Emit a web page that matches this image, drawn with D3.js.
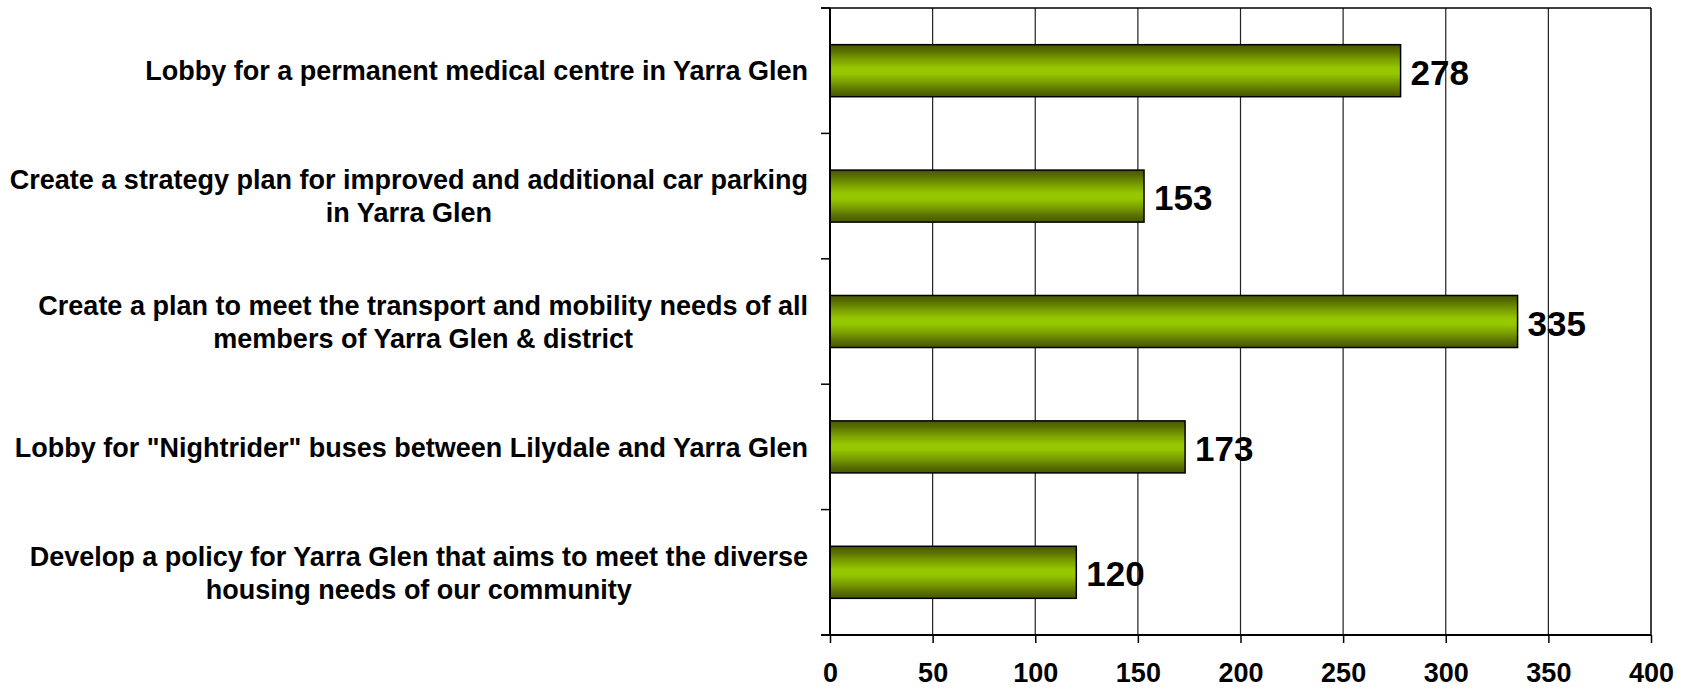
<!DOCTYPE html>
<html>
<head>
<meta charset="utf-8">
<script src="https://cdn.jsdelivr.net/npm/d3@7"></script>
<style>
  body { margin: 0; background: #fff; }
  svg { display: block; font-family: "Liberation Sans", Arial, sans-serif; }
</style>
</head>
<body>
<figure id="chart" style="margin:0"></figure>
<script>
// chart data
var categories = [
    "Lobby for a permanent medical centre in Yarra Glen",
    "Create a strategy plan for improved and additional car parking\nin Yarra Glen",
    "Create a plan to meet the transport and mobility needs of all\nmembers of Yarra Glen & district",
    "Lobby for \"Nightrider\" buses between Lilydale and Yarra Glen",
    "Develop a policy for Yarra Glen that aims to meet the diverse\nhousing needs of our community"
];
var votes = [278, 153, 335, 173, 120];
var xTicks = [0, 50, 100, 150, 200, 250, 300, 350, 400];

var dimensions = {
    width: 1686,
    height: 689,
    margin: {
        top: 8,
        right: 35,
        bottom: 54,
        left: 830,
    },
};
dimensions.boundedWidth = dimensions.width - dimensions.margin.left - dimensions.margin.right;
dimensions.boundedHeight = dimensions.height - dimensions.margin.top - dimensions.margin.bottom;

var root = d3.select("figure#chart")
    .append("svg")
    .attr("width", dimensions.width)
    .attr("height", dimensions.height);

// bar gradient, dark edges -> bright middle
var grad = root.append("defs").append("linearGradient")
    .attr("id", "barGrad")
    .attr("x1", 0).attr("y1", 0).attr("x2", 0).attr("y2", 1);
[["0%", "#475500"], ["12%", "#5a7000"], ["28%", "#7a9e00"], ["45%", "#96c800"],
 ["55%", "#96c800"], ["72%", "#7a9e00"], ["88%", "#5a7000"], ["100%", "#475500"]]
    .forEach(function (s) {
        grad.append("stop").attr("offset", s[0]).attr("stop-color", s[1]);
    });

var svg = root.append("g")
    .attr("transform", `translate(${dimensions.margin.left},${dimensions.margin.top})`);

var xScale = d3.scaleLinear()
    .domain([0, 400])
    .range([0, dimensions.boundedWidth]);

var yScale = d3.scaleBand()
    .domain(categories)
    .range([0, dimensions.boundedHeight])
    .paddingInner(0.585)
    .paddingOuter(0.2925);

var step = yScale.step();

// vertical gridlines
svg.selectAll("line.grid")
    .data(xTicks.slice(1))
    .enter()
    .append("line")
    .attr("class", "grid")
    .attr("x1", d => xScale(d))
    .attr("x2", d => xScale(d))
    .attr("y1", 0)
    .attr("y2", dimensions.boundedHeight)
    .attr("stroke", d => d === 400 ? "#000" : "#222")
    .attr("stroke-width", d => d === 400 ? 1.5 : 1.2);

// top border
svg.append("line")
    .attr("x1", -9).attr("x2", dimensions.boundedWidth)
    .attr("y1", 0).attr("y2", 0)
    .attr("stroke", "#000").attr("stroke-width", 1.5);

// bars
svg.selectAll("rect.bar")
    .data(votes)
    .enter()
    .append("rect")
    .attr("class", "bar")
    .attr("x", 0)
    .attr("y", (d, i) => yScale(categories[i]))
    .attr("width", d => xScale(d))
    .attr("height", yScale.bandwidth())
    .attr("fill", "url(#barGrad)")
    .attr("stroke", "#000")
    .attr("stroke-width", 1.5);

// value labels
svg.selectAll("text.value")
    .data(votes)
    .enter()
    .append("text")
    .attr("class", "value")
    .attr("x", d => xScale(d) + 10)
    .attr("y", (d, i) => yScale(categories[i]) + yScale.bandwidth() / 2 + 14)
    .attr("font-size", 35)
    .attr("font-weight", "bold")
    .attr("fill", "#000")
    .text(d => d);

// left axis with ticks on band boundaries
svg.append("line")
    .attr("x1", 0).attr("x2", 0)
    .attr("y1", 0).attr("y2", dimensions.boundedHeight)
    .attr("stroke", "#000").attr("stroke-width", 2);

svg.selectAll("line.ytick")
    .data(d3.range(categories.length + 1))
    .enter()
    .append("line")
    .attr("class", "ytick")
    .attr("x1", -9).attr("x2", 0)
    .attr("y1", i => i * step)
    .attr("y2", i => i * step)
    .attr("stroke", "#000").attr("stroke-width", 1.5);

// bottom axis
var xAxis = svg.append("g")
    .attr("class", "x axis")
    .attr("transform", `translate(0,${dimensions.boundedHeight})`)
    .call(d3.axisBottom(xScale).tickValues(xTicks).tickSize(8).tickSizeOuter(0).tickPadding(20));

xAxis.select(".domain")
    .attr("d", `M-9,0H${dimensions.boundedWidth}`)
    .attr("stroke", "#000").attr("stroke-width", 2);
xAxis.selectAll(".tick line").attr("stroke", "#000").attr("stroke-width", 1.5);
xAxis.selectAll(".tick text")
    .attr("font-family", "\"Liberation Sans\", Arial, sans-serif")
    .attr("font-size", 27)
    .attr("font-weight", "bold")
    .attr("fill", "#000");

// category labels: lines centred within a block that is right-aligned
var labelRight = -22;
var lineGap = 33;
var labels = root.append("g")
    .attr("transform", `translate(${dimensions.margin.left},${dimensions.margin.top})`);

categories.forEach(function (cat, i) {
    var lines = cat.split("\n");
    var cy = yScale(cat) + yScale.bandwidth() / 2;
    var g = labels.append("g");
    var texts = g.selectAll("text")
        .data(lines)
        .enter()
        .append("text")
        .attr("y", (d, j) => cy + (j - (lines.length - 1) / 2) * lineGap)
        .attr("dy", "0.36em")
        .attr("text-anchor", "middle")
        .attr("font-size", 27)
        .attr("font-weight", "bold")
        .attr("fill", "#000")
        .text(d => d);
    var w = d3.max(texts.nodes(), n => n.getComputedTextLength());
    texts.attr("x", labelRight - w / 2);
});
</script>
</body>
</html>
